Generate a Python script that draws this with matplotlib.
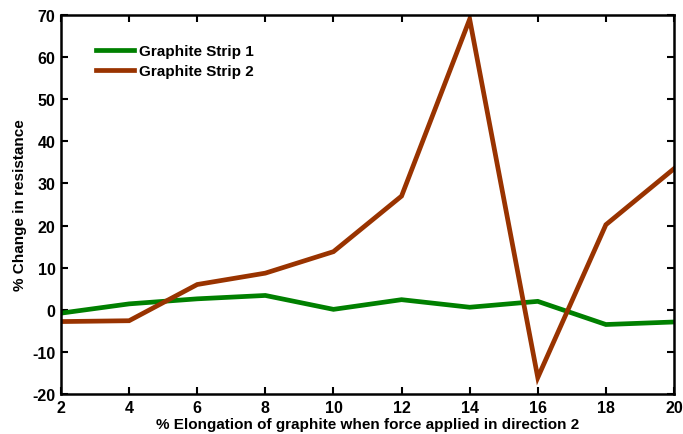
import matplotlib
matplotlib.use("Agg")
import matplotlib.pyplot as plt

elongation = [2, 4, 6, 8, 10, 12, 14, 16, 18, 20]
strip1 = [-0.8, 1.4, 2.6, 3.4, 0.1, 2.4, 0.6, 2.0, -3.5, -2.9]
strip2 = [-2.8, -2.6, 6.0, 8.7, 13.8, 27.0, 69.0, -16.1, 20.2, 33.5]
yticks = [-20, -10, 0, 10, 20, 30, 40, 50, 60, 70]
xticks = [2, 4, 6, 8, 10, 12, 14, 16, 18, 20]

plt.rcParams['font.family'] = ['Liberation Sans', 'DejaVu Sans']
plt.rcParams['font.weight'] = 'bold'
plt.rcParams['axes.unicode_minus'] = False

fig = plt.figure(figsize=(6.83, 4.35), dpi=100)
ax = fig.add_axes([61/683, 1-395/435, 613/683, 379/435])

ax.plot(elongation, strip1, color='#008000', lw=3.4, label='Graphite Strip 1', solid_joinstyle='miter')
ax.plot(elongation, strip2, color='#993300', lw=3.4, label='Graphite Strip 2', solid_joinstyle='miter')

ax.set_xlim(2, 20)
ax.set_ylim(-20, 70)
ax.set_xticks(xticks)
ax.set_yticks(yticks)
ax.tick_params(direction='in', top=True, right=True, length=5, width=1.5, labelsize=11.5)
ax.tick_params(axis='x', pad=4)
ax.tick_params(axis='y', pad=4)
for lab in ax.get_xticklabels() + ax.get_yticklabels():
    lab.set_fontweight('bold')
for s in ax.spines.values():
    s.set_linewidth(1.8)

ax.set_xlabel('% Elongation of graphite when force applied in direction 2', fontsize=11, fontweight='bold', labelpad=1.5)
ax.set_ylabel('% Change in resistance', fontsize=11, fontweight='bold', labelpad=4)

leg = ax.legend(loc='upper left', frameon=False, fontsize=11, handlelength=2.5, handletextpad=0.33,
                labelspacing=0.37, bbox_to_anchor=(0.047, 0.939), borderaxespad=0)
for t in leg.get_texts():
    t.set_fontweight('bold')

fig.savefig('out.png', dpi=100)
